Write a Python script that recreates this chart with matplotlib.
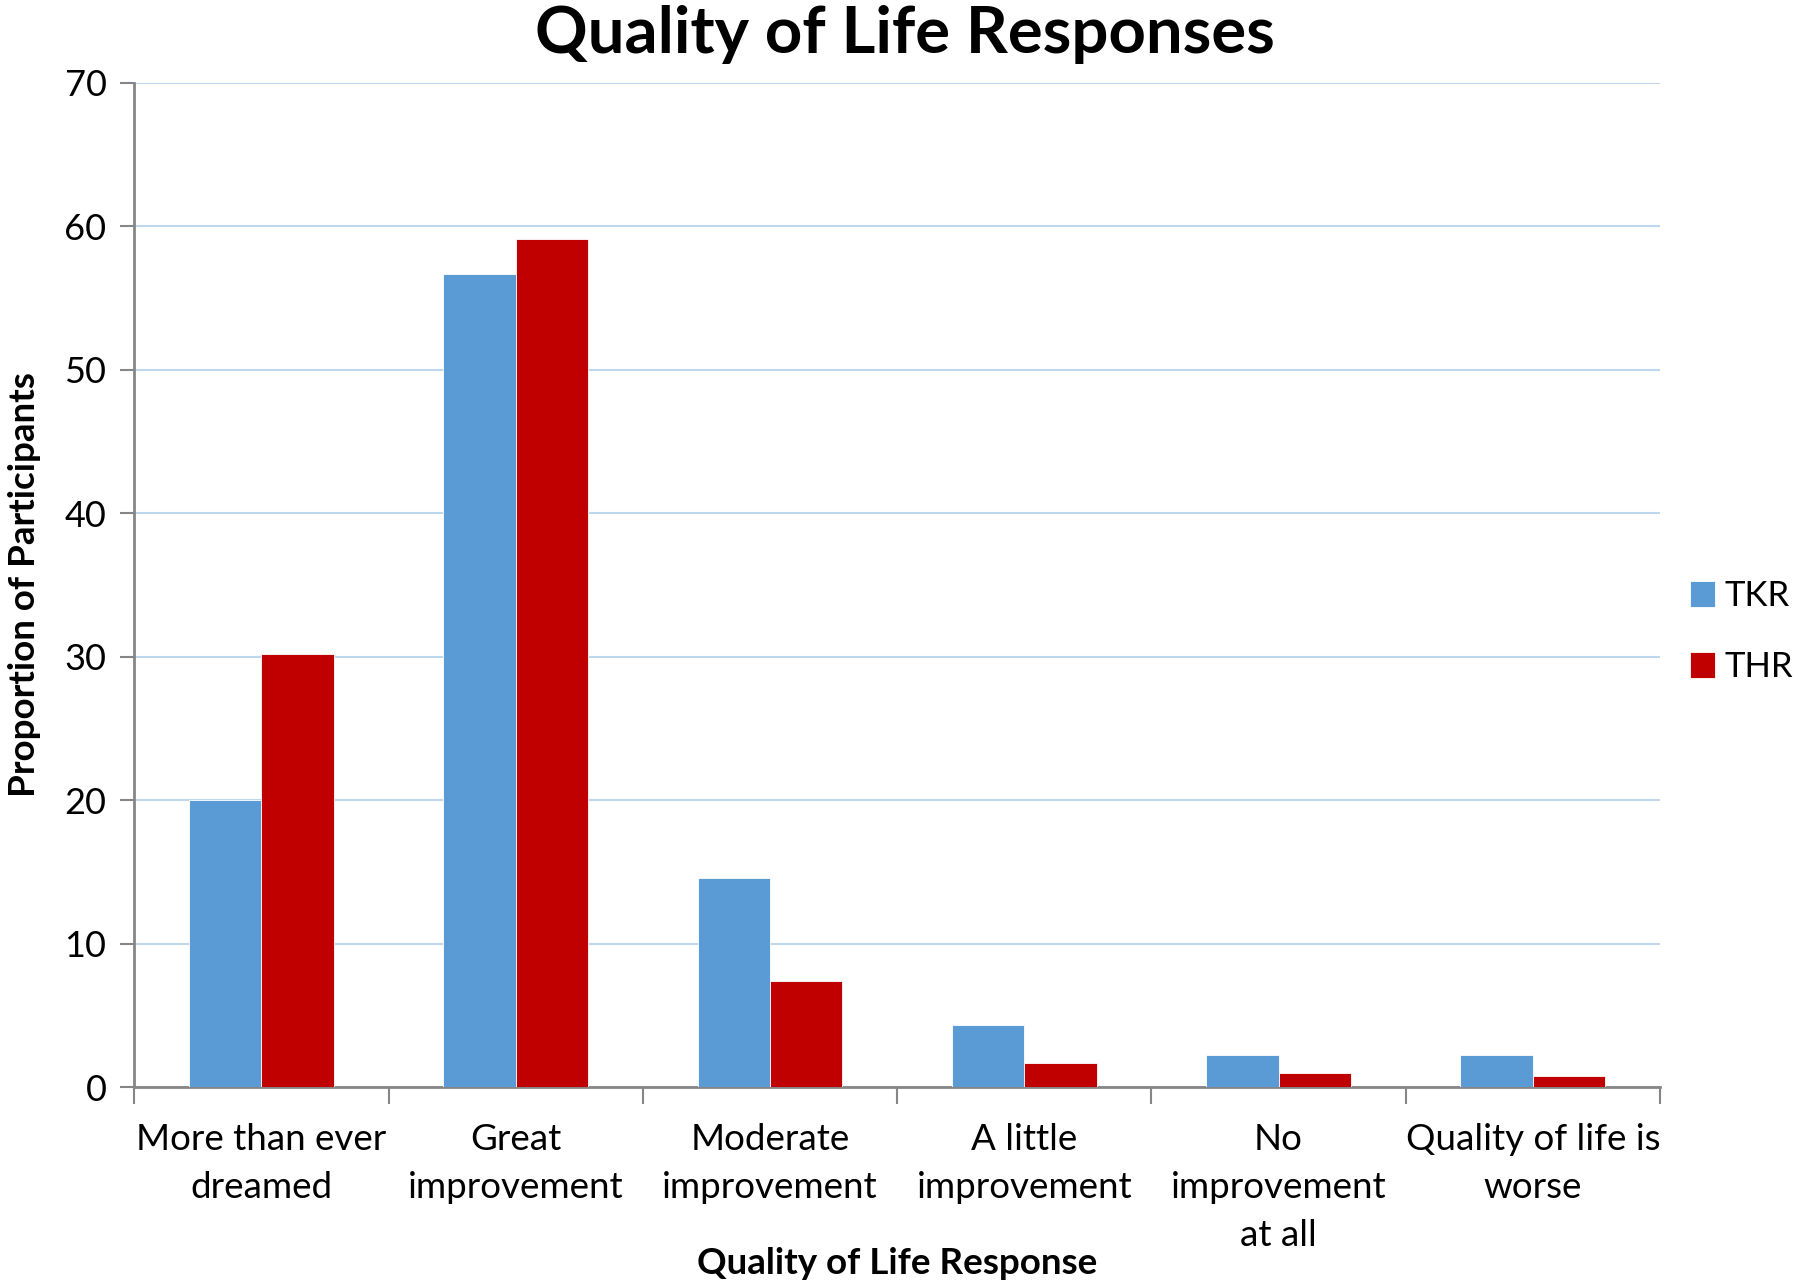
import matplotlib.pyplot as plt
import numpy as np

plt.rcParams['font.family'] = ['Lato', 'DejaVu Sans']

categories = ['More than ever\ndreamed', 'Great\nimprovement', 'Moderate\nimprovement',
              'A little\nimprovement', 'No\nimprovement\nat all', 'Quality of life is\nworse']
tkr = [20.0, 56.7, 14.6, 4.3, 2.2, 2.2]
thr = [30.2, 59.1, 7.4, 1.7, 1.0, 0.8]

fig = plt.figure(figsize=(18, 12.84), dpi=100)
ax = fig.add_axes([0.0746, 0.1534, 0.8476, 0.7822])

x = np.arange(len(categories))
w = 0.285
ax.bar(x - w/2, tkr, w, color='#5B9BD5', edgecolor='white', linewidth=0.6, label='TKR', zorder=3)
ax.bar(x + w/2, thr, w, color='#C00000', edgecolor='white', linewidth=0.6, label='THR', zorder=3)

ax.set_xlim(-0.5, len(categories) - 0.5)
ax.set_ylim(0, 70)
ax.set_yticks(np.arange(0, 71, 10))
ax.yaxis.grid(True, color='#BDD7EE', linewidth=1.5, zorder=0)

# category boundaries as ticks, labels at centres
ax.set_xticks(np.arange(-0.5, len(categories), 1))
ax.set_xticklabels([])
ax.set_xticks(x, minor=True)
ax.set_xticklabels(categories, minor=True, fontsize=26.5, linespacing=1.56)
ax.tick_params(axis='x', which='major', length=12, width=1.5, color='#868686', direction='out')
ax.tick_params(axis='x', which='minor', length=0, pad=26)
ax.tick_params(axis='y', length=10, width=1.5, color='#868686', labelsize=26, pad=10)

for s in ['top', 'right']:
    ax.spines[s].set_visible(False)
for s in ['left', 'bottom']:
    ax.spines[s].set_color('#868686')
    ax.spines[s].set_linewidth(2)

fig.text(0.503, 0.9587, 'Quality of Life Responses', fontsize=47, fontweight='bold',
         ha='center', va='baseline')
ax.set_ylabel('Proportion of Participants', fontsize=26.5, fontweight='bold', labelpad=17)
ax.set_xlabel('Quality of Life Response', fontsize=26.5, fontweight='bold', labelpad=-4)

fig.legend(loc='center left', bbox_to_anchor=(0.939, 0.508), bbox_transform=fig.transFigure,
           frameon=False, fontsize=25, handlelength=0.7, handleheight=0.75,
           handletextpad=0.3, labelspacing=1.12, borderpad=0, borderaxespad=0)

fig.savefig('out.png', dpi=100)
